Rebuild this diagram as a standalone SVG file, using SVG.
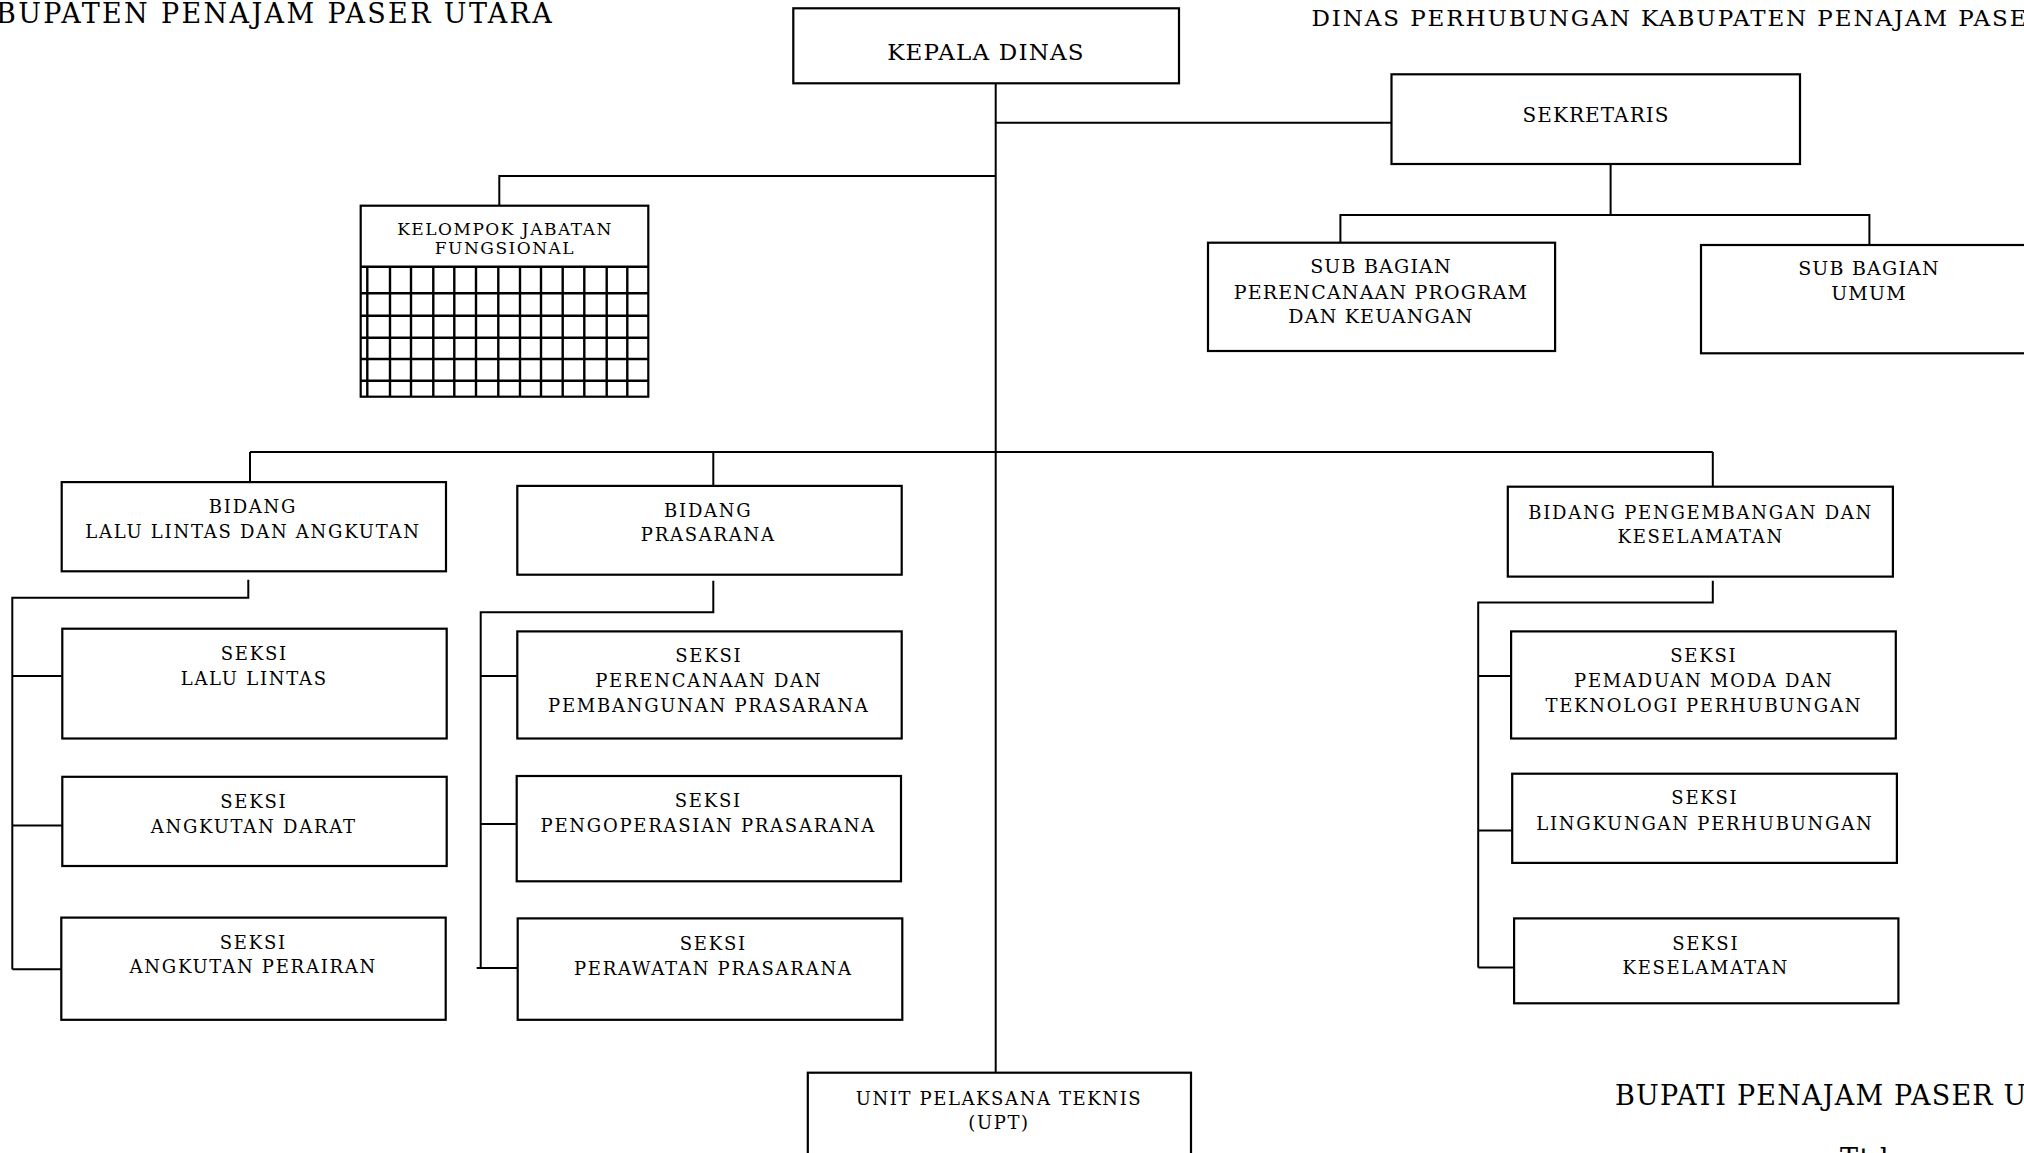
<svg xmlns="http://www.w3.org/2000/svg" width="2024" height="1153" viewBox="0 0 2024 1153">
<style>
text{font-family:"DejaVu Serif","Liberation Serif",serif;fill:#000;}
.box{fill:#fff;stroke:#000;stroke-width:2.2;}
.lbl{font-size:18px;letter-spacing:1.75px;text-anchor:middle;}
.big{font-size:23px;letter-spacing:1.2px;text-anchor:middle;}
.sek{font-size:20px;letter-spacing:1.1px;text-anchor:middle;}
.sub{font-size:19px;letter-spacing:1.2px;text-anchor:middle;}
.kel{font-size:17px;letter-spacing:1.5px;text-anchor:middle;}
.upt{font-size:18px;letter-spacing:1.6px;text-anchor:middle;}
.hdr{font-size:27px;letter-spacing:2.35px;}
.hdr2{font-size:23px;letter-spacing:1.9px;}
.hdr3{font-size:27px;letter-spacing:1.2px;}
.con{fill:none;stroke:#000;stroke-width:2;}
.grid{fill:none;stroke:#000;stroke-width:2.4;}
</style>
<rect width="2024" height="1153" fill="#fff"/>

<g id="headers">
<text class="hdr" x="-4" y="22.7">BUPATEN PENAJAM PASER UTARA</text>
<text class="hdr2" x="1311.5" y="26">DINAS PERHUBUNGAN KABUPATEN PENAJAM PASER</text>
<text class="hdr3" x="1615" y="1105">BUPATI PENAJAM PASER UTARA</text>
<text class="hdr3" x="1840" y="1168">Ttd</text>
</g>

<g id="connectors">
<path class="con" d="M995.7 83.3V1072.7"/>
<path class="con" d="M995.7 122.7H1391.5"/>
<path class="con" d="M995.7 176H499.3V205.7"/>
<path class="con" d="M1610.6 164V215"/>
<path class="con" d="M1340.4 242.7V215H1869.4V245"/>
<path class="con" d="M250 452H1712.8"/>
<path class="con" d="M250 452V482.1"/>
<path class="con" d="M713.3 452V485.9"/>
<path class="con" d="M1712.8 452V486.7"/>
<path class="con" d="M248.3 579.7V597.7H12.3V969.3"/>
<path class="con" d="M12.3 676.1H61.7M12.3 825.4H62.3M12.3 969.3H61.3"/>
<path class="con" d="M713.3 580.8V612.2H480.7V968.1"/>
<path class="con" d="M480.7 676.1H516.7M480.7 823.9H516.7M476.7 968.1H523.3"/>
<path class="con" d="M1712.8 580.8V602.6H1478.2V967.4"/>
<path class="con" d="M1478.2 676.1H1511.1M1478.2 830.4H1512.2M1478.2 967.4H1524.3"/>
</g>

<g id="kepala-dinas">
<rect class="box" x="793.3" y="8.3" width="385.7" height="75"/>
<text class="big" x="986" y="60">KEPALA DINAS</text>
</g>

<g id="sekretaris">
<rect class="box" x="1391.5" y="74.3" width="408.5" height="89.7"/>
<text class="sek" x="1596" y="121.7">SEKRETARIS</text>
</g>

<g id="subbag-perencanaan">
<rect class="box" x="1208" y="242.7" width="347.1" height="108.3"/>
<text class="sub" x="1381" y="273.3">SUB BAGIAN</text>
<text class="sub" x="1381" y="299.3">PERENCANAAN PROGRAM</text>
<text class="sub" x="1381" y="323.3">DAN KEUANGAN</text>
</g>

<g id="subbag-umum">
<rect class="box" x="1701" y="245" width="340" height="108.3"/>
<text class="sub" x="1869" y="275">SUB BAGIAN</text>
<text class="sub" x="1869" y="300">UMUM</text>
</g>

<g id="kelompok-jabatan-fungsional">
<rect class="box" x="360.7" y="205.7" width="287.6" height="191"/>
<text class="kel" x="505" y="235">KELOMPOK JABATAN</text>
<text class="kel" x="505" y="254">FUNGSIONAL</text>
<path class="grid" d="M360.7 266.7H648.3M360.7 293.3H648.3M360.7 315.7H648.3M360.7 337.7H648.3M360.7 359H648.3M360.7 380.7H648.3
M367.3 266.7V396.7M390 266.7V396.7M411 266.7V396.7M433.3 266.7V396.7M454.3 266.7V396.7M476 266.7V396.7M498.3 266.7V396.7M520 266.7V396.7M541 266.7V396.7M562.7 266.7V396.7M584.3 266.7V396.7M606.7 266.7V396.7M627.3 266.7V396.7"/>
</g>

<g id="bidang-lalu-lintas">
<rect class="box" x="61.7" y="482.1" width="384.3" height="89.2"/>
<text class="lbl" x="253" y="512.7">BIDANG</text>
<text class="lbl" x="253" y="537.6">LALU LINTAS DAN ANGKUTAN</text>
</g>

<g id="bidang-prasarana">
<rect class="box" x="517.3" y="485.9" width="384.4" height="88.8"/>
<text class="lbl" x="708.3" y="516.5">BIDANG</text>
<text class="lbl" x="708.3" y="541.4">PRASARANA</text>
</g>

<g id="bidang-pengembangan">
<rect class="box" x="1507.8" y="486.7" width="385.1" height="89.9"/>
<text class="lbl" x="1700.7" y="518.5">BIDANG PENGEMBANGAN DAN</text>
<text class="lbl" x="1700.7" y="543.3">KESELAMATAN</text>
</g>

<g id="seksi-lalu-lintas">
<rect class="box" x="62.3" y="628.7" width="384.4" height="109.8"/>
<text class="lbl" x="254.3" y="660">SEKSI</text>
<text class="lbl" x="254.3" y="684.9">LALU LINTAS</text>
</g>

<g id="seksi-angkutan-darat">
<rect class="box" x="62.3" y="776.8" width="384.4" height="89.2"/>
<text class="lbl" x="253.8" y="808.2">SEKSI</text>
<text class="lbl" x="253.8" y="833">ANGKUTAN DARAT</text>
</g>

<g id="seksi-angkutan-perairan">
<rect class="box" x="61.3" y="917.6" width="384.4" height="102.2"/>
<text class="lbl" x="253.3" y="949">SEKSI</text>
<text class="lbl" x="253.3" y="973.1">ANGKUTAN PERAIRAN</text>
</g>

<g id="seksi-perencanaan-prasarana">
<rect class="box" x="517.3" y="631.4" width="384.4" height="107.1"/>
<text class="lbl" x="708.8" y="662">SEKSI</text>
<text class="lbl" x="708.8" y="686.8">PERENCANAAN DAN</text>
<text class="lbl" x="708.8" y="711.7">PEMBANGUNAN PRASARANA</text>
</g>

<g id="seksi-pengoperasian-prasarana">
<rect class="box" x="516.7" y="776" width="384.3" height="105.3"/>
<text class="lbl" x="708.3" y="806.6">SEKSI</text>
<text class="lbl" x="708.3" y="831.5">PENGOPERASIAN PRASARANA</text>
</g>

<g id="seksi-perawatan-prasarana">
<rect class="box" x="517.7" y="918.4" width="384.6" height="101.4"/>
<text class="lbl" x="713.3" y="949.8">SEKSI</text>
<text class="lbl" x="713.3" y="974.6">PERAWATAN PRASARANA</text>
</g>

<g id="seksi-pemaduan-moda">
<rect class="box" x="1511.1" y="631.4" width="384.7" height="107.1"/>
<text class="lbl" x="1703.8" y="662">SEKSI</text>
<text class="lbl" x="1703.8" y="686.8">PEMADUAN MODA DAN</text>
<text class="lbl" x="1703.8" y="711.7">TEKNOLOGI PERHUBUNGAN</text>
</g>

<g id="seksi-lingkungan">
<rect class="box" x="1512.2" y="773.7" width="384.7" height="89.2"/>
<text class="lbl" x="1704.9" y="804.3">SEKSI</text>
<text class="lbl" x="1704.9" y="829.6">LINGKUNGAN PERHUBUNGAN</text>
</g>

<g id="seksi-keselamatan">
<rect class="box" x="1514.1" y="918.4" width="384.3" height="84.9"/>
<text class="lbl" x="1705.7" y="949.8">SEKSI</text>
<text class="lbl" x="1705.7" y="973.9">KESELAMATAN</text>
</g>

<g id="upt">
<rect class="box" x="807.8" y="1072.7" width="383.2" height="100"/>
<text class="upt" x="999" y="1105">UNIT PELAKSANA TEKNIS</text>
<text class="upt" x="999" y="1129">(UPT)</text>
</g>
</svg>
